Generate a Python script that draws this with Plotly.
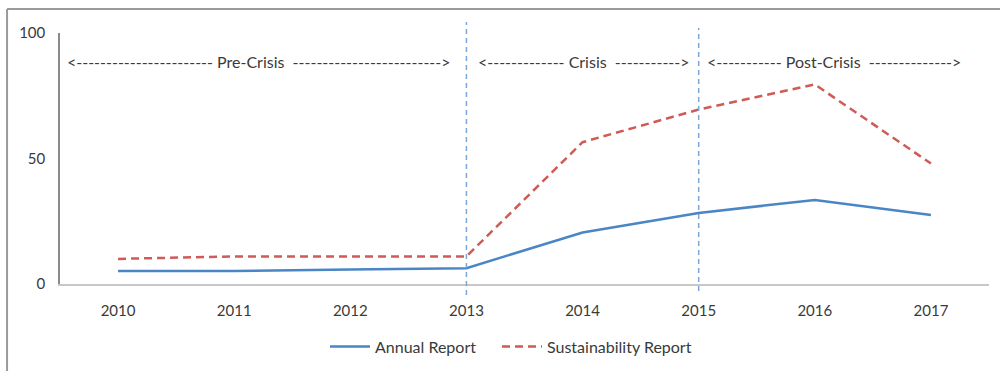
import plotly.graph_objects as go

years = ["2010", "2011", "2012", "2013", "2014", "2015", "2016", "2017"]
annual_report = [5.2, 5.2, 5.8, 6.3, 20.5, 28.3, 33.5, 27.5]
sustainability_report = [10.0, 11.0, 11.0, 11.0, 56.5, 69.5, 79.5, 48.0]
y_ticks = [0, 50, 100]
period_breaks = ["2013", "2015"]

BLUE = "#4A86C5"
RED = "#CF5A56"
FONT = "Lato, 'Open Sans', sans-serif"
TEXT = "#3a3a3a"

fig = go.Figure()
fig.add_trace(go.Scatter(
    x=years, y=annual_report, name="Annual Report", mode="lines",
    line=dict(color=BLUE, width=2.5), legend="legend",
))
fig.add_trace(go.Scatter(
    x=years, y=sustainability_report, name="Sustainability Report", mode="lines",
    line=dict(color=RED, width=2.5, dash="8px,5px"), legend="legend2",
))

# period separators: category centre in paper units (axis range is [-0.5, n-0.5])
for yr, (y0, y1) in zip(period_breaks, [(-0.044, 1.044), (-0.028, 1.02)]):
    xp = (years.index(yr) + 0.5) / len(years)
    fig.add_shape(type="line", xref="paper", yref="paper", x0=xp, x1=xp, y0=y0, y1=y1,
                  line=dict(color="#7aa7d8", width=1.5, dash="5px,4px"), layer="above")

# outer frame
fig.add_shape(type="line", xref="paper", yref="paper", x0=-0.057, x1=1.02,
              y0=1.0956, y1=1.0956, line=dict(color="#9a9a9a", width=2))
fig.add_shape(type="line", xref="paper", yref="paper", x0=-0.057, x1=-0.057,
              y0=1.0956, y1=-0.36, line=dict(color="#9a9a9a", width=2))


def arrow(label, left, right):
    return "&lt;" + "-" * left + " " + label + "  " + "-" * right + "&gt;"


periods = [
    (259, arrow("Pre-Crisis", 23, 25)),
    (584, arrow("Crisis", 13, 11)),
    (834, arrow("Post-Crisis", 11, 14)),
]
for cx, label in periods:
    fig.add_annotation(x=(cx - 60) / 929, y=(284 - 61) / 251, xref="paper", yref="paper",
                       xanchor="center", yanchor="middle",
                       text=label, showarrow=False,
                       font=dict(family=FONT, size=16, color=TEXT))

legend_style = dict(orientation="h", xanchor="left", y=-0.249, yanchor="middle",
                    font=dict(family=FONT, size=16, color=TEXT), itemwidth=40,
                    bgcolor="rgba(0,0,0,0)")

fig.update_layout(
    width=1000, height=371,
    margin=dict(l=60, r=11, t=33, b=87, autoexpand=False),
    paper_bgcolor="white", plot_bgcolor="white",
    font=dict(family=FONT, size=15, color=TEXT),
    showlegend=True,
    legend=dict(x=(325 - 60) / 929, **legend_style),
    legend2=dict(x=(497 - 60) / 929, **legend_style),
    xaxis=dict(type="category", range=[-0.5, 7.5], showgrid=False, showline=True,
               linecolor="#c8c8c8", linewidth=2, ticks="", ticklabelstandoff=12,
               tickfont=dict(family=FONT, size=15, color=TEXT), zeroline=False),
    yaxis=dict(range=[0, 100], tickvals=y_ticks, showgrid=False, showline=True,
               linecolor="#8a8a8a", linewidth=1.5, ticks="", ticklabelstandoff=10,
               tickfont=dict(family=FONT, size=15, color=TEXT), zeroline=False),
)

fig.write_html("out.html")
